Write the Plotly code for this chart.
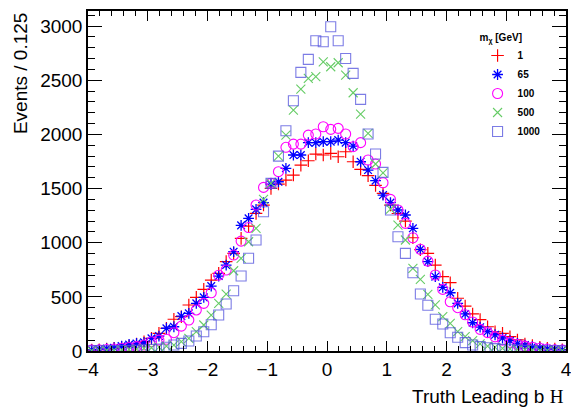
"""Truth leading b eta distributions for several dark matter masses"""
import numpy as np
import plotly.graph_objects as go

# 64 bins of width 0.125 between -4 and 4
bin_edges = np.linspace(-4, 4, 65)
bin_centers = 0.5 * (bin_edges[:-1] + bin_edges[1:])

# Events per bin
m1 = [8, 12, 18, 25, 35, 45, 65, 86, 117, 163, 210, 293, 317, 425, 495, 569,
      655, 717, 825, 902, 1040, 1154, 1271, 1348, 1502, 1542, 1579, 1625, 1717, 1757, 1819, 1810,
      1825, 1794, 1840, 1748, 1678, 1620, 1530, 1456, 1348, 1270, 1200, 1046, 935, 902, 794, 686,
      631, 487, 415, 342, 290, 224, 178, 163, 132, 102, 65, 50, 35, 25, 18, 12]
m65 = [10, 15, 22, 30, 45, 60, 70, 80, 117, 138, 210, 224, 323, 348, 440, 495,
       600, 692, 794, 917, 1160, 1225, 1308, 1370, 1540, 1563, 1687, 1810, 1810, 1924, 1924, 1933,
       1933, 1948, 1924, 1893, 1748, 1671, 1573, 1440, 1370, 1302, 1256, 1133, 939, 825, 686, 588,
       538, 440, 342, 261, 220, 180, 150, 120, 95, 70, 55, 40, 30, 20, 15, 10]
m100 = [8, 10, 14, 18, 25, 32, 40, 55, 86, 100, 108, 169, 230, 286, 379, 440,
        538, 700, 748, 886, 1015, 1140, 1348, 1511, 1548, 1656, 1881, 1911, 1911, 1994, 2004, 2071,
        2047, 2056, 2004, 1887, 1924, 1764, 1727, 1554, 1400, 1302, 1179, 1046, 939, 830, 702, 569,
        455, 400, 335, 268, 200, 170, 130, 100, 80, 60, 45, 35, 25, 18, 12, 8]
m500 = [3, 4, 6, 8, 10, 14, 18, 25, 30, 35, 45, 55, 86, 117, 178, 240,
        332, 440, 526, 741, 856, 1009, 1133, 1400, 1548, 1800, 1994, 2225, 2419, 2518, 2533, 2671,
        2625, 2662, 2548, 2385, 2188, 2010, 1727, 1646, 1311, 1163, 1025, 764, 662, 523, 425, 317,
        256, 178, 132, 95, 65, 45, 35, 25, 18, 14, 10, 8, 6, 4, 3, 2]
m1000 = [1, 1, 2, 3, 4, 5, 7, 10, 14, 18, 35, 55, 70, 92, 138, 178,
         243, 332, 434, 557, 692, 856, 1025, 1286, 1548, 1800, 2034, 2311, 2573, 2693, 2865, 2856,
         2994, 2865, 2702, 2564, 2324, 2004, 1819, 1650, 1302, 1055, 902, 723, 526, 422, 293, 249,
         169, 127, 77, 55, 40, 30, 22, 15, 12, 8, 6, 4, 3, 2, 1, 1]

mass_labels = ['1', '65', '100', '500', '1000']

FONT = 'Liberation Sans, Arial, Helvetica, sans-serif'

styles = [
    dict(symbol='cross-thin-open', color='#ff0000', size=9, width=1.2),
    dict(symbol='asterisk-open', color='#0000ff', size=9, width=1.3),
    dict(symbol='circle-open', color='#ff00ff', size=10, width=1.1),
    dict(symbol='x-thin-open', color='#66cc66', size=9, width=1.1),
    dict(symbol='square-open', color='rgba(80,80,220,0.75)', size=10, width=1.1),
]

fig = go.Figure()

for label, values, st in zip(mass_labels, [m1, m65, m100, m500, m1000], styles):
    fig.add_trace(go.Scatter(
        x=bin_centers,
        y=values,
        mode='markers',
        name=label,
        marker=dict(
            symbol=st['symbol'],
            size=st['size'],
            color=st['color'],
            line=dict(color=st['color'], width=st['width'])
        ),
        hovertemplate='%{x:.3f}: %{y}<extra>' + label + '</extra>'
    ))

axis_common = dict(
    showline=True,
    linecolor='black',
    linewidth=1.5,
    mirror='ticks',
    ticks='inside',
    tickcolor='black',
    tickwidth=1,
    showgrid=False,
    zeroline=False,
    automargin=False,
    ticklabeloverflow='allow',
    tickfont=dict(family=FONT, size=19, color='black'),
)

fig.update_xaxes(
    range=[-4, 4],
    dtick=1,
    ticklen=10,
    minor=dict(ticks='inside', dtick=0.2, ticklen=5, tickcolor='black', tickwidth=1),
    **axis_common
)
fig.update_yaxes(
    range=[0, 3140],
    dtick=500,
    ticklen=14,
    minor=dict(ticks='inside', dtick=100, ticklen=7, tickcolor='black', tickwidth=1),
    **axis_common
)

fig.update_layout(
    width=571,
    height=412,
    margin=dict(l=88, r=5, t=11, b=61, autoexpand=False),
    paper_bgcolor='white',
    plot_bgcolor='white',
    font=dict(family=FONT, color='black'),
    showlegend=True,
    legend=dict(
        x=0.815,
        y=0.95,
        xanchor='left',
        yanchor='top',
        bgcolor='rgba(0,0,0,0)',
        font=dict(family=FONT, size=10, color='black', weight='bold'),
        title=dict(text='m<sub>χ</sub> [GeV]',
                   font=dict(family=FONT, size=10, color='black', weight='bold')),
        tracegroupgap=0,
        itemwidth=30,
    ),
    annotations=[
        dict(
            text='Truth Leading b <span style="font-family:Liberation Serif, Times New Roman, serif">Η</span>',
            xref='paper', yref='paper',
            x=1.0, y=-0.135,
            xanchor='right', yanchor='middle',
            showarrow=False,
            font=dict(family=FONT, size=19, color='black'),
        ),
        dict(
            text='Events / 0.125',
            xref='paper', yref='paper',
            x=-0.141, y=1.0,
            xanchor='center', yanchor='top',
            textangle=-90,
            showarrow=False,
            font=dict(family=FONT, size=19, color='black'),
        ),
    ],
)

# page margin off so the figure sits at the window's corner
fig.write_html("out.html",
               config={'displayModeBar': False},
               post_script="document.body.style.margin = '0';")
